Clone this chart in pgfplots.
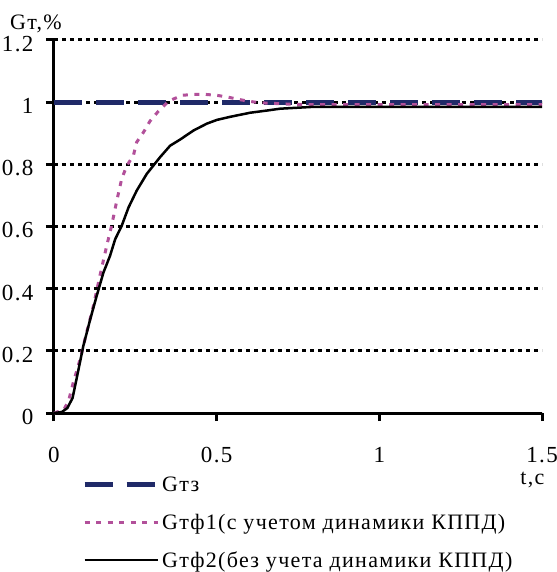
\documentclass[border=0pt]{standalone}
\usepackage{fontspec}
\setmainfont{Liberation Serif}[LetterSpace=6]
\usepackage{pgfplots}
\pgfplotsset{compat=1.18}
\definecolor{gtz}{RGB}{32,42,104}
\definecolor{gtf1}{RGB}{178,80,154}
\begin{document}
\begin{tikzpicture}
\begin{axis}[
    scale only axis,
    width=488bp, height=373bp,
    xmin=0, xmax=1.5, ymin=0, ymax=1.2,
    axis x line=bottom, axis y line=left,
    axis line style={line width=3bp, -},
    xtick={0,0.5,1,1.5}, ytick={0,0.2,...,1.2},
    xticklabels={0,0.5,1,1.5},
    yticklabels={0,0.2,0.4,0.6,0.8,1,1.2},
    tick align=outside, major tick length=8bp,
    tick style={line width=3bp, black},
    ymajorgrids,
    grid style={line width=3bp, black, dash pattern=on 4bp off 4bp},
    tick label style={font=\fontsize{23bp}{27bp}\selectfont, /pgf/number format/assume math mode=true},
    xticklabel style={yshift=-23bp},
    yticklabel style={xshift=-9bp, yshift=-4bp},
    legend style={at={(0.0574,-0.165)}, anchor=north west, draw=none, fill=none,
        inner sep=0pt, row sep=17bp,
        font=\fontsize{22bp}{26bp}\selectfont,
        nodes={inner sep=2bp}},
    legend cell align=left,
    legend image code/.code={\draw[#1] (0bp,0bp) -- (73bp,0bp);},
    clip=false,
]
\addplot[gtz, line width=5bp, dash pattern=on 28bp off 14bp] coordinates {(0,1) (1.5,1)};
\addlegendentry{Gтз}
\addplot[gtf1, line width=3bp, dash pattern=on 5bp off 6.5bp] coordinates {
(0,0) (0.03,0.01) (0.045,0.04) (0.059,0.097) (0.080,0.172) (0.100,0.258) (0.121,0.344)
(0.141,0.441) (0.162,0.538) (0.177,0.602) (0.193,0.683) (0.208,0.753)
(0.224,0.796) (0.244,0.828) (0.254,0.871) (0.275,0.903) (0.295,0.939)
(0.321,0.971) (0.352,1.003) (0.393,1.022) (0.429,1.025) (0.465,1.025)
(0.500,1.022) (0.531,1.017) (0.567,1.009) (0.598,1.003) (0.634,0.998)
(0.675,0.996) (0.736,0.993) (0.8,0.992) (1.0,0.992) (1.2,0.992) (1.5,0.992)};
\addlegendentry{Gтф1(с учетом динамики КППД)}
\addplot[black, line width=2.5bp] coordinates {
(0,0) (0.024,0.003) (0.041,0.016) (0.057,0.048) (0.070,0.113) (0.090,0.215)
(0.111,0.300) (0.131,0.376) (0.152,0.452) (0.172,0.505) (0.188,0.559)
(0.208,0.602) (0.229,0.661) (0.254,0.715) (0.285,0.769) (0.326,0.823)
(0.357,0.860) (0.388,0.880) (0.429,0.909) (0.470,0.931) (0.501,0.943)
(0.542,0.953) (0.603,0.966) (0.654,0.973) (0.695,0.979) (0.798,0.985)
(1.0,0.985) (1.2,0.985) (1.5,0.985)};
\addlegendentry{Gтф2(без учета динамики КППД)}
\node[anchor=base, font=\fontsize{22bp}{26bp}\selectfont] at (axis cs:0,1.2) [xshift=-18bp, yshift=10bp] {Gт,\%};
\node[anchor=base east, font=\fontsize{22bp}{26bp}\selectfont] at (axis cs:1.5,0) [xshift=6bp, yshift=-71bp] {t,c};
\end{axis}
\pgfresetboundingbox
\path[use as bounding box] (-54bp,-159bp) rectangle (503bp,413bp);
\end{tikzpicture}
\end{document}
